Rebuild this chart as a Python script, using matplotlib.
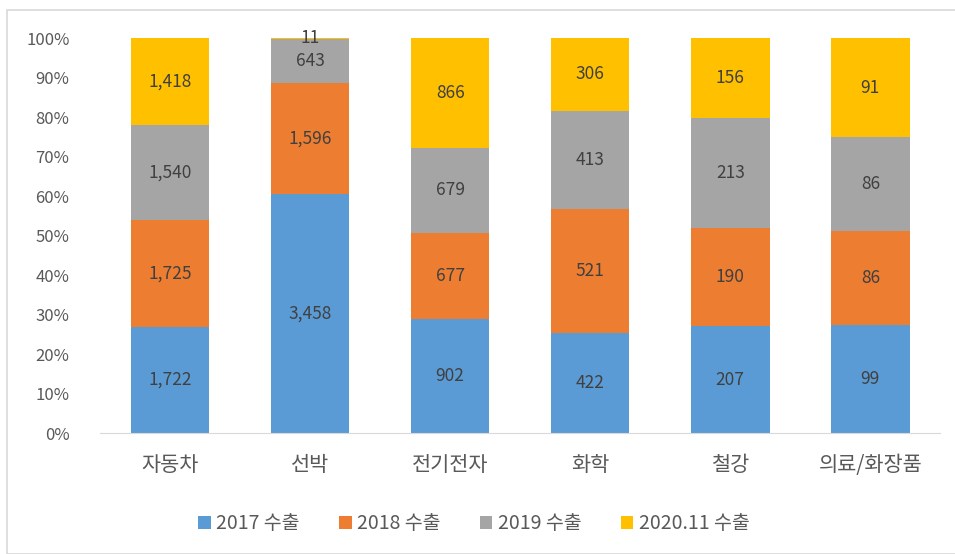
import numpy as np
import matplotlib.pyplot as plt
from matplotlib.patches import Rectangle

plt.rcParams['font.family'] = ['Noto Sans CJK KR', 'DejaVu Sans']

categories = ['자동차', '선박', '전기전자', '화학', '철강', '의료/화장품']
series_names = ['2017 수출', '2018 수출', '2019 수출', '2020.11 수출']
exports_2017 = [1722, 3458, 902, 422, 207, 99]
exports_2018 = [1725, 1596, 677, 521, 190, 86]
exports_2019 = [1540, 643, 679, 413, 213, 86]
exports_2020 = [1418, 11, 866, 306, 156, 91]
colors = ['#5B9BD5', '#ED7D31', '#A5A5A5', '#FFC000']

series = np.array([exports_2017, exports_2018, exports_2019, exports_2020], dtype=float)
totals = series.sum(axis=0)
shares = series / totals * 100

fig = plt.figure(figsize=(9.55, 5.54), dpi=100)
fig.patches.append(Rectangle((7 / 955, 0), 1, 1 - 10 / 554, transform=fig.transFigure,
                             fill=False, edgecolor='#D9D9D9', linewidth=1.2))
ax = fig.add_axes([0.1047, 0.2184, 0.880, 0.713])

x = np.arange(len(categories))
bottom = np.zeros(len(categories))
for i, name in enumerate(series_names):
    bars = ax.bar(x, shares[i], 0.56, bottom=bottom, color=colors[i], label=name)
    for j, rect in enumerate(bars):
        cy = bottom[j] + shares[i][j] / 2
        ax.text(rect.get_x() + rect.get_width() / 2, cy, f'{int(series[i][j]):,}',
                ha='center', va='center', fontsize=12.5, color='#404040')
    bottom += shares[i]

ax.set_xlim(-0.5, len(categories) - 0.5)
ax.set_ylim(0, 100)
ax.set_yticks(np.arange(0, 101, 10))
ax.set_yticklabels([f'{v}%' for v in range(0, 101, 10)])
ax.set_xticks(x)
ax.set_xticklabels(categories)
ax.tick_params(axis='y', length=0, labelsize=12, labelcolor='#595959', pad=22)
ax.tick_params(axis='x', length=0, labelsize=15, labelcolor='#595959', pad=15)
for side in ['top', 'right', 'left']:
    ax.spines[side].set_visible(False)
ax.spines['bottom'].set_color('#D9D9D9')

ax.legend(loc='center', bbox_to_anchor=(0.445, -0.23), ncol=4, frameon=False,
          fontsize=14, handlelength=0.65, handleheight=0.65, handletextpad=0.3,
          columnspacing=2.0, labelcolor='#595959')

fig.savefig('out.png', dpi=100)
